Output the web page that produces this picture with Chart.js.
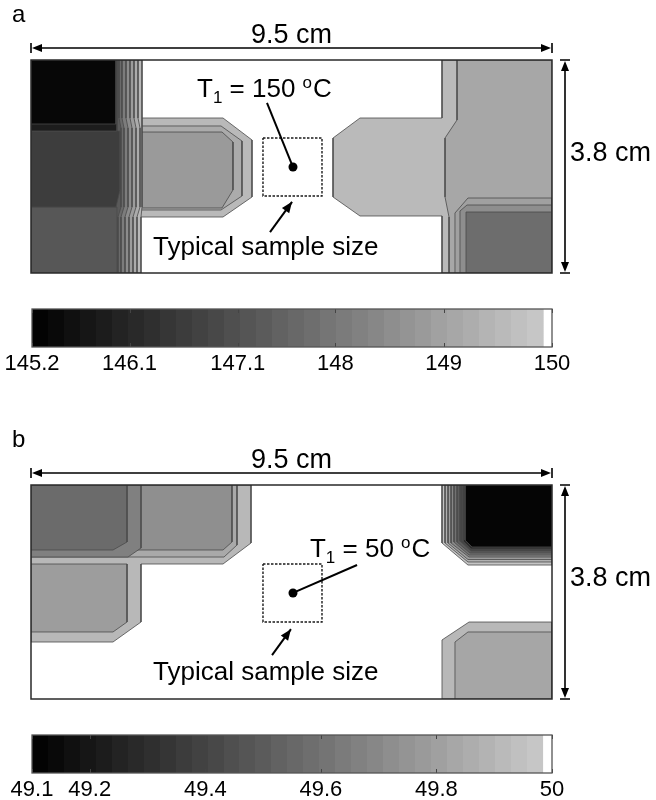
<!DOCTYPE html>
<html><head><meta charset="utf-8">
<script src="https://cdn.jsdelivr.net/npm/chart.js@4.4.1/dist/chart.umd.min.js"></script>
<style>
html,body{margin:0;padding:0;background:#fff}
body{width:656px;height:800px;position:relative;overflow:hidden}
.pane{position:absolute;left:0}
canvas{display:block}
</style></head><body>
<div class="pane" style="top:0px"><canvas id="mapA" width="656" height="290"></canvas></div>
<div class="pane" style="top:290px"><canvas id="cbA" width="656" height="90"></canvas></div>
<div class="pane" style="top:420px"><canvas id="mapB" width="656" height="290"></canvas></div>
<div class="pane" style="top:716px"><canvas id="cbB" width="656" height="84"></canvas></div>
<script>
// ================= DATA =================
// Panel a : temperature range of colour bar (deg C), ticks, labels
const rangeA = [145.2, 150];
const ticksA = [145.2, 146.1, 147.1, 148, 149, 150];
const tickLabelsA = ['145.2', '146.1', '147.1', '148', '149', '150'];
const cbarA = [145.2, 149.92, 150];
// contour level temperature of each region (drawn in this order)
const levelsA = [149.55, 149.11, 148.95, 148.53, 147.75,
                 149.53, 149.20, 148.81,
                 149.53, 149.20, 148.85, 148.48, 148.10, 147.68, 147.31,
                 147.24, 146.63, 145.88, 145.36];
// contour region outlines, x (cm, 0..9.5), y (cm, 0..3.8)
const shapesA = [
  [[7.494,3.8],[7.494,2.765],[5.999,2.765],[5.507,2.408],[5.507,1.356],[5.999,1.017],[7.494,1.017],[7.494,0],[9.5,0],[9.5,3.8]],
  [[7.768,3.8],[7.768,2.730],[7.549,2.408],[7.549,1.356],[7.622,0.999],[7.622,0],[9.5,0],[9.5,3.8]],
  [[7.731,0],[7.731,1.070],[7.968,1.338],[9.5,1.338],[9.5,0]],
  [[7.822,0],[7.822,1.106],[7.950,1.213],[9.5,1.213],[9.5,0]],
  [[7.932,0],[7.932,1.088],[9.5,1.088],[9.5,0]],
  [[1.951,2.765],[3.501,2.765],[4.030,2.373],[4.030,1.356],[3.501,0.999],[1.951,0.999]],
  [[1.951,2.623],[3.465,2.623],[3.847,2.355],[3.847,1.374],[3.465,1.124],[1.951,1.124]],
  [[1.951,2.515],[3.483,2.515],[3.683,2.337],[3.683,1.481],[3.483,1.160],[1.951,1.160]],
  [[0,3.8],[2.024,3.8],[2.024,2.765],[2.024,2.587],[2.024,1.177],[2.006,0.999],[2.006,0],[0,0]],
  [[0,3.8],[1.951,3.8],[1.951,2.765],[1.988,2.587],[1.988,1.177],[1.933,0.999],[1.933,0],[0,0]],
  [[0,3.8],[1.878,3.8],[1.878,2.765],[1.915,2.587],[1.915,1.177],[1.860,0.999],[1.860,0],[0,0]],
  [[0,3.8],[1.805,3.8],[1.805,2.765],[1.842,2.587],[1.842,1.177],[1.787,0.999],[1.787,0],[0,0]],
  [[0,3.8],[1.732,3.8],[1.732,2.765],[1.769,2.587],[1.769,1.177],[1.714,0.999],[1.714,0],[0,0]],
  [[0,3.8],[1.659,3.8],[1.659,2.765],[1.696,2.587],[1.696,1.177],[1.641,0.999],[1.641,0],[0,0]],
  [[0,3.8],[1.605,3.8],[1.605,2.765],[1.641,2.587],[1.641,1.177],[1.586,0.999],[1.586,0],[0,0]],
  [[0,0],[1.568,0],[1.568,1.177],[0,1.177]],
  [[0,2.533],[1.623,2.533],[1.623,1.481],[1.550,1.177],[0,1.177]],
  [[0,3.8],[1.568,3.8],[1.568,2.533],[0,2.533]],
  [[0,3.8],[1.550,3.8],[1.550,2.658],[0,2.658]]
];

// Panel b
const rangeB = [49.1, 50];
const ticksB = [49.1, 49.2, 49.4, 49.6, 49.8, 50];
const tickLabelsB = ['49.1', '49.2', '49.4', '49.6', '49.8', '50'];
const cbarB = [49.1, 49.984, 50];
const levelsB = [49.908, 49.842, 49.789, 49.728, 49.662, 49.570,
                 49.960, 49.873, 49.785, 49.693, 49.600, 49.504, 49.403, 49.293, 49.122,
                 49.908, 49.829];
const shapesB = [
  [[0,3.8],[4.012,3.8],[4.012,2.770],[3.501,2.397],[2.006,2.397],[2.006,1.367],[1.495,1.012],[0,1.012]],
  [[0,3.8],[3.756,3.8],[3.756,2.734],[3.519,2.521],[0,2.521]],
  [[0,2.397],[1.751,2.397],[1.751,1.367],[1.495,1.190],[0,1.190]],
  [[0,3.8],[3.665,3.8],[3.665,2.788],[3.501,2.646],[0,2.646]],
  [[0,3.8],[2.006,3.8],[2.006,2.681],[1.769,2.521],[0,2.521]],
  [[0,3.8],[1.751,3.8],[1.751,2.788],[1.495,2.646],[0,2.646]],
  [[7.494,3.8],[7.494,2.770],[7.968,2.379],[9.5,2.379],[9.5,3.8]],
  [[7.549,3.8],[7.549,2.770],[7.968,2.433],[9.5,2.433],[9.5,3.8]],
  [[7.604,3.8],[7.604,2.770],[7.968,2.477],[9.5,2.477],[9.5,3.8]],
  [[7.659,3.8],[7.659,2.770],[7.987,2.521],[9.5,2.521],[9.5,3.8]],
  [[7.713,3.8],[7.713,2.788],[7.987,2.557],[9.5,2.557],[9.5,3.8]],
  [[7.768,3.8],[7.768,2.788],[8.005,2.592],[9.5,2.592],[9.5,3.8]],
  [[7.822,3.8],[7.822,2.805],[8.023,2.628],[9.5,2.628],[9.5,3.8]],
  [[7.877,3.8],[7.877,2.805],[8.023,2.663],[9.5,2.663],[9.5,3.8]],
  [[7.914,3.8],[7.914,2.823],[8.041,2.699],[9.5,2.699],[9.5,3.8]],
  [[7.494,0],[7.494,1.048],[7.987,1.367],[9.5,1.367],[9.5,0]],
  [[7.731,0],[7.731,1.012],[7.968,1.190],[9.5,1.190],[9.5,0]]
];

// plate size labels and annotations
const plateW = 9.5, plateH = 3.8;
const sizeLabels = ['9.5 cm', '3.8 cm'];
const annoA = {
  letter: 'a', t: ['T', '1', ' = 150 ', 'o', 'C'], tPos: [3.027, 3.14],
  s: 'Typical sample size', sPos: [2.225, 0.321],
  box: [[4.23, 2.409], [5.306, 1.374]], dot: [4.777, 1.891], leaderEnd: [4.303, 3.033],
  arrowFrom: [4.358, 0.73], arrowTo: [4.76, 1.27]
};
const annoB = {
  letter: 'b', t: ['T', '1', ' = 50 ', 'o', 'C'], tPos: [5.087, 2.52],
  s: 'Typical sample size', sPos: [2.225, 0.337],
  box: [[4.23, 2.398], [5.306, 1.368]], dot: [4.777, 1.883], leaderEnd: [5.945, 2.38],
  arrowFrom: [4.395, 0.78], arrowTo: [4.74, 1.24]
};

// ================= RENDERING =================
const FONT = "'Liberation Sans', Arial, Helvetica, sans-serif";
Chart.defaults.font.family = FONT;

function gray(T, range) {
  const f = (T - range[0]) / (range[1] - range[0]);
  if (f >= 0.983) return '#ffffff';
  const g = Math.round(205 * Math.max(0, f));
  return `rgb(${g},${g},${g})`;
}
const P = ([x, y]) => ({x, y});

function head(ctx, x0, y0, x1, y1, len, hw) {
  const a = Math.atan2(y1 - y0, x1 - x0), c = Math.cos(a), s = Math.sin(a);
  ctx.beginPath();
  ctx.moveTo(x1, y1);
  ctx.lineTo(x1 - len * c + hw * s, y1 - len * s - hw * c);
  ctx.lineTo(x1 - len * c - hw * s, y1 - len * s + hw * c);
  ctx.closePath();
  ctx.fill();
}

function mapDeco(anno) {
  return {
    id: 'mapDeco',
    afterDraw(chart) {
      const {ctx, chartArea: a, scales: {x, y}} = chart;
      ctx.save();
      // plate frame
      ctx.strokeStyle = '#2a2a2a'; ctx.lineWidth = 1.5;
      ctx.strokeRect(a.left, a.top, a.right - a.left, a.bottom - a.top);
      ctx.fillStyle = '#000'; ctx.strokeStyle = '#000'; ctx.lineWidth = 1.6;
      // width dimension
      const xl = x.getPixelForValue(0), xr = x.getPixelForValue(plateW);
      const ay = a.top - 12;
      ctx.beginPath();
      ctx.moveTo(xl + 6, ay); ctx.lineTo(xr - 6, ay);
      ctx.moveTo(xl, ay - 5); ctx.lineTo(xl, ay + 5);
      ctx.moveTo(xr, ay - 5); ctx.lineTo(xr, ay + 5);
      ctx.stroke();
      head(ctx, xr - 10, ay, xr - 1, ay, 10, 4);
      head(ctx, xl + 10, ay, xl + 1, ay, 10, 4);
      ctx.font = `27px ${FONT}`; ctx.textAlign = 'center'; ctx.textBaseline = 'alphabetic';
      ctx.fillText(sizeLabels[0], (xl + xr) / 2, ay - 5);
      // height dimension
      const yt = y.getPixelForValue(plateH), yb = y.getPixelForValue(0);
      const vx = a.right + 13;
      ctx.beginPath();
      ctx.moveTo(vx, yt + 6); ctx.lineTo(vx, yb - 6);
      ctx.moveTo(vx - 5, yt); ctx.lineTo(vx + 5, yt);
      ctx.moveTo(vx - 5, yb); ctx.lineTo(vx + 5, yb);
      ctx.stroke();
      head(ctx, vx, yt + 10, vx, yt + 1, 10, 4);
      head(ctx, vx, yb - 10, vx, yb - 1, 10, 4);
      ctx.textAlign = 'left';
      ctx.fillText(sizeLabels[1], a.right + 18, (yt + yb) / 2 - 6);
      // panel letter
      ctx.font = `24px ${FONT}`;
      ctx.fillText(anno.letter, 12, a.top - 38);
      // T1 label
      let tx = x.getPixelForValue(anno.tPos[0]);
      const ty = y.getPixelForValue(anno.tPos[1]);
      const parts = anno.t;
      const big = `26px ${FONT}`, small = `17px ${FONT}`;
      ctx.font = big; ctx.fillText(parts[0], tx, ty); tx += ctx.measureText(parts[0]).width;
      ctx.font = small; ctx.fillText(parts[1], tx, ty + 6); tx += ctx.measureText(parts[1]).width;
      ctx.font = big; ctx.fillText(parts[2], tx, ty); tx += ctx.measureText(parts[2]).width;
      ctx.font = small; ctx.fillText(parts[3], tx, ty - 9); tx += ctx.measureText(parts[3]).width + 1;
      ctx.font = big; ctx.fillText(parts[4], tx, ty);
      // sample size label
      ctx.font = big;
      ctx.fillText(anno.s, x.getPixelForValue(anno.sPos[0]), y.getPixelForValue(anno.sPos[1]));
      // arrow head on sample pointer
      head(ctx, x.getPixelForValue(anno.arrowFrom[0]), y.getPixelForValue(anno.arrowFrom[1]),
           x.getPixelForValue(anno.arrowTo[0]), y.getPixelForValue(anno.arrowTo[1]), 11, 4.5);
      ctx.restore();
    }
  };
}

function buildMap(id, levels, shapes, range, anno, pad) {
  const datasets = shapes.map((pts, i) => ({
    data: pts.concat([pts[0]]).map(P),
    backgroundColor: gray(levels[i], range),
    borderColor: '#4a4a4a', borderWidth: 0.8, fill: 'shape',
    pointRadius: 0, tension: 0, borderJoinStyle: 'miter'
  }));
  const [[bx0, by0], [bx1, by1]] = anno.box;
  datasets.push({data: [[bx0, by0], [bx1, by0], [bx1, by1], [bx0, by1], [bx0, by0]].map(P),
    borderColor: '#1a1a1a', borderWidth: 1.4, borderDash: [2.5, 1.5], fill: false, pointRadius: 0});
  datasets.push({data: [anno.dot, anno.leaderEnd].map(P), borderColor: '#000', borderWidth: 2, fill: false, pointRadius: 0});
  datasets.push({data: [anno.arrowFrom, anno.arrowTo].map(P), borderColor: '#000', borderWidth: 2, fill: false, pointRadius: 0});
  datasets.push({data: [anno.dot].map(P), showLine: false, pointRadius: 4.5, pointBackgroundColor: '#000', pointBorderWidth: 0});
  const n = datasets.length;
  datasets.forEach((d, i) => { d.order = n - i; });
  new Chart(document.getElementById(id), {
    type: 'line',
    data: {datasets},
    options: {
      responsive: false, animation: false, devicePixelRatio: 1, events: [],
      layout: {padding: pad},
      scales: {
        x: {type: 'linear', min: 0, max: plateW, display: false},
        y: {type: 'linear', min: 0, max: plateH, display: false}
      },
      plugins: {legend: {display: false}, tooltip: {enabled: false}}
    },
    plugins: [mapDeco(anno)]
  });
}

function barGrad(chart, cb, range) {
  const a = chart.chartArea;
  if (!a) return '#888';
  const xs = chart.scales.x;
  const x0 = xs.getPixelForValue(cb[0]), x1 = xs.getPixelForValue(cb[1]);
  const g = chart.ctx.createLinearGradient(x0, 0, x1, 0);
  const N = 32;
  for (let i = 0; i < N; i++) {
    const col = gray(cb[0] + (cb[1] - cb[0]) * (i + 0.5) / N, range);
    g.addColorStop(i / N, col);
    g.addColorStop((i + 1) / N, col);
  }
  return g;
}

const cbDeco = {
  id: 'cbDeco',
  afterDraw(chart) {
    const {ctx, chartArea: a, scales: {x}} = chart;
    ctx.save();
    ctx.strokeStyle = '#444'; ctx.lineWidth = 1;
    x.ticks.forEach(t => {
      const px = Math.round(x.getPixelForValue(t.value)) + 0.5;
      ctx.beginPath();
      ctx.moveTo(px, a.top); ctx.lineTo(px, a.top + 4);
      ctx.moveTo(px, a.bottom); ctx.lineTo(px, a.bottom - 4);
      ctx.stroke();
    });
    ctx.strokeStyle = '#555'; ctx.lineWidth = 1.3;
    ctx.strokeRect(a.left, a.top, a.right - a.left, a.bottom - a.top);
    ctx.restore();
  }
};

function buildBar(id, cb, ticks, labels, range, H) {
  new Chart(document.getElementById(id), {
    type: 'bar',
    data: {labels: ['T'], datasets: [
      {data: [[cb[0], cb[1]]], backgroundColor: c => barGrad(c.chart, cb, range)},
      {data: [[cb[1], cb[2]]], backgroundColor: gray(cb[2], range)}
    ]},
    options: {
      indexAxis: 'y', responsive: false, animation: false, devicePixelRatio: 1, events: [],
      datasets: {bar: {grouped: false, barPercentage: 1, categoryPercentage: 1, borderWidth: 0}},
      layout: {padding: {left: 32, right: 104, top: 19, bottom: 0}},
      scales: {
        y: {display: false},
        x: {
          type: 'linear', min: range[0], max: range[1], position: 'bottom',
          afterBuildTicks: s => { s.ticks = ticks.map(v => ({value: v})); },
          afterFit: s => { s.height = H - 57; },
          grid: {display: false, drawTicks: false}, border: {display: false},
          ticks: {autoSkip: false, maxRotation: 0, padding: 4, color: '#000',
                  font: {family: FONT, size: 22}, callback: (v, i) => labels[i]}
        }
      },
      plugins: {legend: {display: false}, tooltip: {enabled: false}}
    },
    plugins: [cbDeco]
  });
}

buildMap('mapA', levelsA, shapesA, rangeA, annoA, {left: 31, right: 104, top: 60, bottom: 17});
buildBar('cbA', cbarA, ticksA, tickLabelsA, rangeA, 90);
buildMap('mapB', levelsB, shapesB, rangeB, annoB, {left: 31, right: 104, top: 65, bottom: 11});
buildBar('cbB', cbarB, ticksB, tickLabelsB, rangeB, 84);
</script>
</body></html>
